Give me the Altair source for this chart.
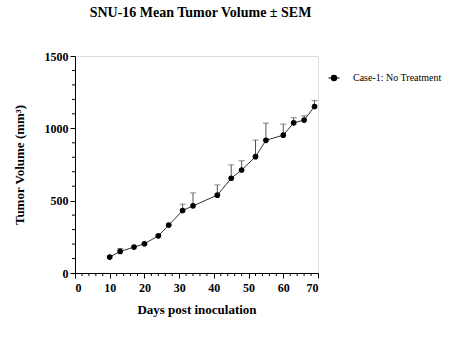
import altair as alt
import pandas as pd

days = [10, 13, 17, 20, 24, 27, 31, 34, 41, 45, 48, 52, 55, 60, 63, 66, 69]
means = [110, 149, 179, 202, 257, 331, 432, 464, 538, 655, 712, 804, 917, 953, 1038, 1057, 1151]
upper = [110, 170, 179, 202, 257, 331, 476, 554, 609, 747, 776, 919, 1036, 1029, 1073, 1087, 1192]
group = "Case-1: No Treatment"
x_major = list(range(0, 71, 10))
y_major = [0, 500, 1000, 1500]
x_minor = [v for v in range(0, 71, 2) if v % 10 != 0]
y_minor = [v for v in range(0, 1501, 100) if v % 500 != 0]

df = pd.DataFrame({"day": days, "mean": means, "upper": upper, "group": [group] * len(days)})
df_xminor = pd.DataFrame({"day": x_minor})
df_yminor = pd.DataFrame({"mean": y_minor})

FONT = "Liberation Serif"
W, H = 243, 217

xscale = alt.Scale(domain=[0, 70], nice=False, zero=True)
yscale = alt.Scale(domain=[0, 1500], nice=False)

base = alt.Chart(df)

x_axis = alt.Axis(values=x_major, tickSize=5, labelFont=FONT, labelFontWeight="bold",
                  labelFontSize=12, labelColor="black", domainColor="black", tickColor="black",
                  grid=False, title="Days post inoculation", titleFont=FONT, titleFontSize=13,
                  titleFontWeight="bold", titleColor="black", titlePadding=10, orient="bottom",
                  labelPadding=4, format="d", labelOverlap=False)
y_axis = alt.Axis(values=y_major, tickSize=5, labelFont=FONT, labelFontWeight="bold",
                  labelFontSize=12, labelColor="black", domainColor="black", tickColor="black",
                  grid=False, title="Tumor Volume (mm³)", titleFont=FONT, titleFontSize=13,
                  titleFontWeight="bold", titleColor="black", titlePadding=18, orient="left",
                  labelPadding=2, format="d", labelOverlap=False)

line = base.mark_line(color="#333333", strokeWidth=1).encode(
    x=alt.X("day:Q", scale=xscale, axis=x_axis),
    y=alt.Y("mean:Q", scale=yscale, axis=y_axis),
)

err = base.mark_rule(color="#555555", strokeWidth=1).encode(
    x=alt.X("day:Q", scale=xscale, axis=x_axis),
    y=alt.Y("mean:Q", scale=yscale, axis=y_axis),
    y2="upper:Q",
)

caps = base.mark_tick(color="#555555", thickness=1, size=6, orient="horizontal").encode(
    x=alt.X("day:Q", scale=xscale, axis=x_axis),
    y=alt.Y("upper:Q", scale=yscale, axis=y_axis),
)

xminor = alt.Chart(df_xminor).mark_rule(color="black", strokeWidth=1).encode(
    x=alt.X("day:Q", scale=xscale, axis=x_axis),
    y=alt.value(H),
    y2=alt.value(H + 3),
)
yminor = alt.Chart(df_yminor).mark_rule(color="black", strokeWidth=1).encode(
    y=alt.Y("mean:Q", scale=yscale, axis=y_axis),
    x=alt.value(0),
    x2=alt.value(-3),
)

pts = base.mark_point(filled=True, opacity=1, size=32).encode(
    x=alt.X("day:Q", scale=xscale, axis=x_axis),
    y=alt.Y("mean:Q", scale=yscale, axis=y_axis),
    color=alt.Color("group:N", scale=alt.Scale(range=["black"]),
                    legend=alt.Legend(title=None, orient="none", legendX=254, legendY=17,
                                      labelFont=FONT, labelFontSize=10, labelColor="black",
                                      symbolType="M-1.4,0 L1.4,0 M0.65,0 A0.65,0.65 0 1,1 -0.65,0 A0.65,0.65 0 1,1 0.65,0 Z",
                                      symbolSize=64, symbolStrokeWidth=1.2, symbolFillColor="black",
                                      symbolStrokeColor="black", labelOffset=14)),
)

chart = alt.layer(line, err, caps, xminor, yminor, pts).properties(
    width=W, height=H,
    title=alt.TitleParams("SNU-16 Mean Tumor Volume ± SEM", font=FONT, fontSize=14, fontWeight="bold",
                          color="black", anchor="middle", offset=30, dx=4),
    autosize=alt.AutoSizeParams(type="none"),
    padding={"left": 75, "top": 56, "right": 143, "bottom": 69},
).configure_view(stroke=None).configure(background="white")

chart.save("out.html", embed_options={"renderer": "svg", "actions": False})
